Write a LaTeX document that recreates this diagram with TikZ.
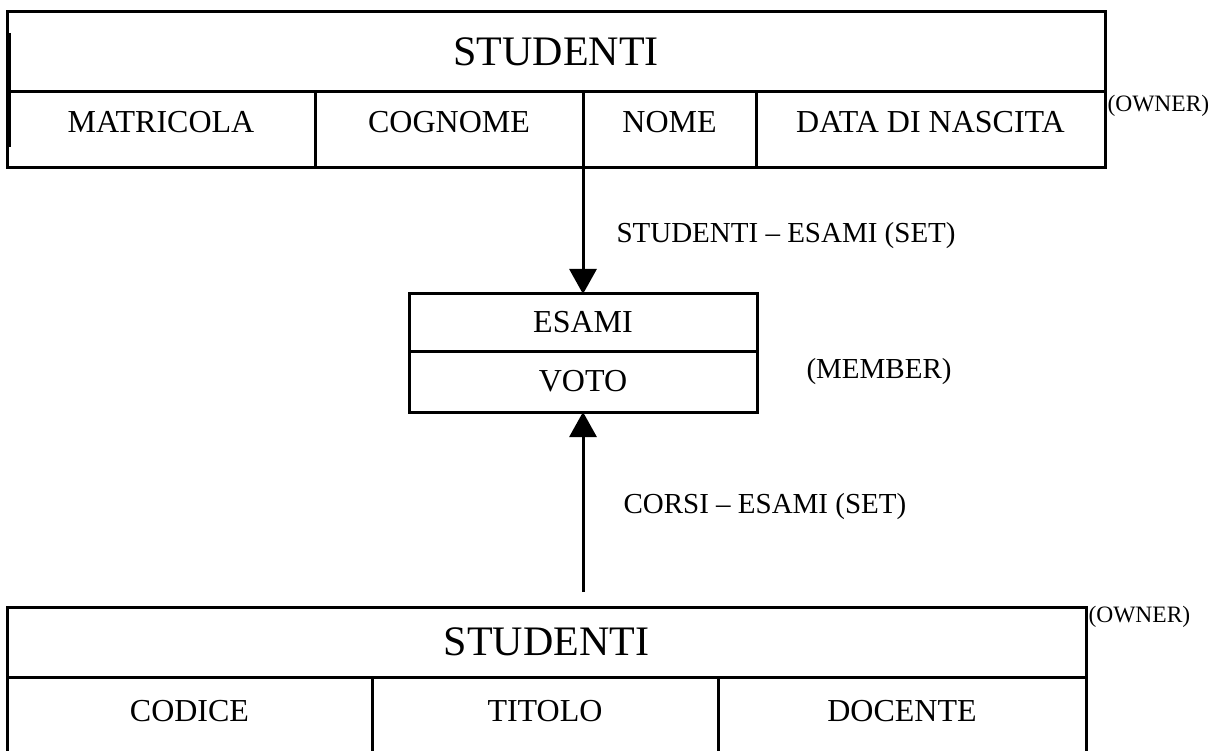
\documentclass[tikz,border=0pt]{standalone}
\usepackage{fontspec}
\setmainfont{Liberation Serif}
\usetikzlibrary{arrows.meta,positioning}

\begin{document}
\begin{tikzpicture}[
    x=1pt, y=-1pt,
    line width=3pt,
    cell/.style={rectangle, draw, anchor=north west, inner sep=0pt, outer sep=0pt, font=\fontsize{32}{38}\selectfont},
    title/.style={cell, font=\fontsize{42}{50}\selectfont},
    setlabel/.style={anchor=base west, inner sep=0pt, font=\fontsize{29}{34}\selectfont},
    role/.style={anchor=base west, inner sep=0pt, font=\fontsize{23.5}{28}\selectfont},
    arrow/.style={-{Triangle[width=27pt,length=25pt]}, line width=3pt}
]
    \useasboundingbox (0,0) rectangle (1215,751);

    % owner: studenti
    \node[title, minimum width=1098pt, minimum height=80pt] (stud) at (7,12) {STUDENTI};
    \node[cell, minimum width=308pt, minimum height=76pt, text depth=16pt] (matricola) at (stud.south west) {MATRICOLA};
    \node[cell, minimum width=268pt, minimum height=76pt, text depth=16pt] (cognome) at (matricola.north east) {COGNOME};
    \node[cell, minimum width=173pt, minimum height=76pt, text depth=16pt] (nome) at (cognome.north east) {NOME};
    \node[cell, minimum width=349pt, minimum height=76pt, text depth=16pt] (nascita) at (nome.north east) {DATA DI NASCITA};
    \draw (9.5,33) -- (9.5,147);

    % member: esami
    \node[cell, minimum width=348pt, minimum height=57pt] (esami) at (409,294) {ESAMI};
    \node[cell, minimum width=348pt, minimum height=61pt] (voto) at (esami.south west) {VOTO};

    % owner: corsi
    \node[title, minimum width=1079pt, minimum height=70pt] (corsi) at (7,607) {STUDENTI};
    \node[cell, minimum width=365pt, minimum height=80pt, text depth=12pt] (codice) at (corsi.south west) {CODICE};
    \node[cell, minimum width=346pt, minimum height=80pt, text depth=12pt] (titolo) at (codice.north east) {TITOLO};
    \node[cell, minimum width=368pt, minimum height=80pt, text depth=12pt] (docente) at (titolo.north east) {DOCENTE};

    \coordinate (corsitail) at (583,592);
    \draw[arrow] ([yshift=6pt]nome.south west) -- (esami.north);
    \draw[arrow] (corsitail) -- (voto.south);

    \node[setlabel] (studesami) at (615,243) {STUDENTI – ESAMI (SET)};
    \node[setlabel] (member) at (805,378) {(MEMBER)};
    \node[setlabel] (corsiesami) at (622,513) {CORSI – ESAMI (SET)};
    \node[role] (owner1) at (1106,112) {(OWNER)};
    \node[role] (owner2) at (1087,622) {(OWNER)};
\end{tikzpicture}
\end{document}
